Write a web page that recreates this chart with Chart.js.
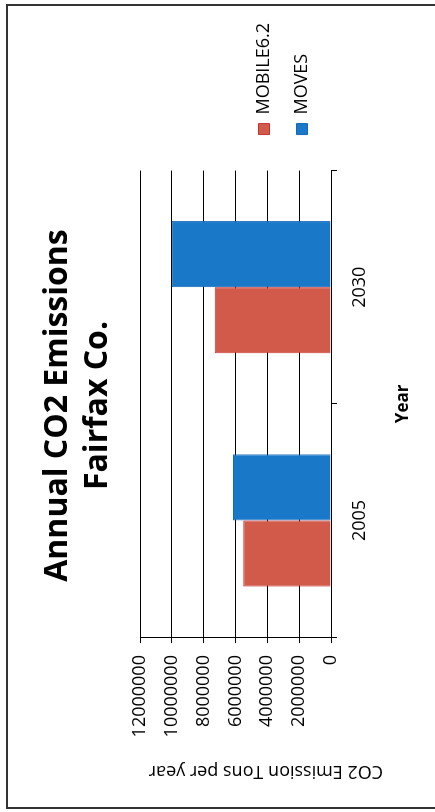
<!DOCTYPE html>
<html>
<head>
<meta charset="utf-8">
<title>Annual CO2 Emissions Fairfax Co.</title>
<script src="https://cdn.jsdelivr.net/npm/chart.js@4.4.1/dist/chart.umd.min.js"></script>
<style>
  html, body { margin: 0; padding: 0; background: #fff; overflow: hidden; }
  body { width: 435px; height: 812px; position: relative; }
  /* scanned page frame, the right edge runs off the page */
  #frame { position: absolute; left: 6px; top: 4px; width: 450px; height: 805px;
           border: 2px solid #333; box-sizing: border-box; }
  /* the chart is printed turned a quarter turn to the left */
  #rot { position: absolute; left: 0; top: 0; width: 812px; height: 435px;
         transform-origin: 0 0; transform: translate(0, 812px) rotate(-90deg); }
</style>
</head>
<body>
<div id="frame"></div>
<div id="rot"><canvas id="co2Chart" width="812" height="435"></canvas></div>
<script>
const years = ["2005", "2030"];
const mobile62 = [5520000, 7300000];
const moves = [6160000, 10000000];
const valueTicks = [0, 2000000, 4000000, 6000000, 8000000, 10000000, 12000000];

const FONT = "'Open Sans', 'Liberation Sans', sans-serif";

// legend sits a bit further from the plot than chart.js puts it
const legendNudge = {
  id: "legendNudge",
  afterLayout(chart) {
    chart.legend.left += 16;
    chart.legend.right += 16;
  },
};

const ctx = document.getElementById("co2Chart");

new Chart(ctx, {
  type: "bar",
  data: {
    labels: years,
    datasets: [
      {
        label: "MOBILE6.2",
        data: mobile62,
        backgroundColor: "rgb(210, 90, 75)",
        borderColor: "rgb(195, 50, 50)",
        borderWidth: 1,
      },
      {
        label: "MOVES",
        data: moves,
        backgroundColor: "rgb(25, 120, 200)",
        borderColor: "rgb(20, 105, 185)",
        borderWidth: 1,
      },
    ],
  },
  options: {
    responsive: false,
    animation: false,
    datasets: { bar: { barPercentage: 1, categoryPercentage: 0.567 } },
    layout: { padding: { left: 30, right: 29, top: 0, bottom: 22 } },
    plugins: {
      title: {
        display: true,
        text: ["Annual CO2 Emissions", "Fairfax Co."],
        color: "#000",
        font: { family: FONT, size: 32, weight: "bold", lineHeight: 1.25 },
        padding: { top: 38, bottom: 22 },
      },
      legend: {
        position: "right",
        align: "end",
        fullSize: false,
        labels: {
          boxWidth: 11,
          boxHeight: 11,
          padding: 20,
          color: "#000",
          font: { family: FONT, size: 18 },
        },
      },
      tooltip: { enabled: false },
    },
    scales: {
      x: {
        grid: { drawOnChartArea: false, offset: true, tickLength: 6, color: "#000" },
        border: { color: "#000" },
        ticks: { color: "#000", padding: 12, font: { family: FONT, size: 18 } },
        title: {
          display: true,
          text: "Year",
          color: "#000",
          font: { family: FONT, size: 17, weight: "bold" },
          padding: { top: 10, bottom: 0 },
        },
      },
      y: {
        min: valueTicks[0],
        max: valueTicks[valueTicks.length - 1],
        grid: { color: "#000", tickLength: 6 },
        border: { color: "#000" },
        ticks: {
          stepSize: valueTicks[1] - valueTicks[0],
          color: "#000",
          padding: 12,
          font: { family: FONT, size: 18 },
          callback: (v) => String(v),
        },
        title: {
          display: true,
          // trailing spaces push the label toward the bottom end, as in the print
          text: "CO2 Emission Tons per year" + " ".repeat(13),
          color: "#000",
          font: { family: FONT, size: 18 },
          padding: { top: 0, bottom: 11 },
        },
      },
    },
  },
  plugins: [legendNudge],
});
</script>
</body>
</html>
